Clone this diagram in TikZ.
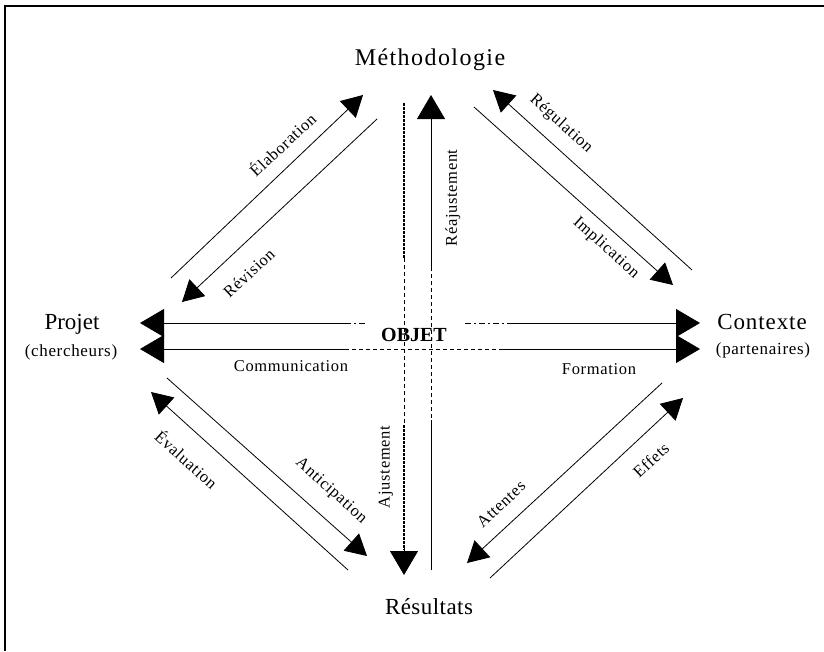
\documentclass[tikz,border=0pt]{standalone}
\usepackage{fontspec}
\setmainfont{Liberation Serif}
\usetikzlibrary{arrows.meta}
\tikzset{
  mainlbl/.style={font=\fontsize{23}{26}\selectfont, inner sep=0pt},
  sublbl/.style={font=\fontsize{17}{19}\selectfont\addfontfeature{LetterSpace=4}, inner sep=0pt},
  smalllbl/.style={font=\fontsize{16.5}{18}\selectfont\addfontfeature{LetterSpace=4}, inner sep=0pt},
  thinline/.style={line width=0.8pt},
  bigtip/.style={-{Triangle[length=24pt,width=28pt]}},
  diagtip/.style={-{Triangle[length=21pt,width=23pt]}},
  heavydot/.style={line width=1.8pt, dash pattern=on 3pt off 1pt},
  lightdash/.style={line width=0.8pt, dash pattern=on 4pt off 3pt},
  dashdotline/.style={line width=0.8pt, dash pattern=on 6pt off 3pt on 2pt off 3pt},
}
\begin{document}
\begin{tikzpicture}[x=1pt,y=-1pt]
\useasboundingbox (0,0) rectangle (824,651);
\fill[white] (0,0) rectangle (824,651);
% frame
\draw[line width=1.5pt] (5,651) -- (5,6) -- (824,6);

% main labels
\node[mainlbl, font=\fontsize{24}{26}\selectfont\addfontfeature{LetterSpace=6}] (meth) at (430,60) {Méthodologie};
\node[mainlbl] (projet) at (72,324) {Projet};
\node[sublbl] (cherch) at (71,352) {(chercheurs)};
\node[mainlbl, font=\fontsize{23}{26}\selectfont\addfontfeature{LetterSpace=4}] (contexte) at (762,322) {Contexte};
\node[sublbl] (parten) at (763,350) {(partenaires)};
\node[mainlbl, font=\fontsize{23}{26}\selectfont\addfontfeature{LetterSpace=2}] (result) at (429,607) {Résultats};
\node[font=\fontsize{20}{22}\selectfont\bfseries, inner sep=0pt] (objet) at (414,335) {OBJET};

% coordinates for horizontal lines
\coordinate (hlA) at (140,323);
\coordinate (hlB) at (345,323);
\coordinate (hlC) at (366,323);
\coordinate (hrA) at (465,323);
\coordinate (hrB) at (512,323);
\coordinate (hrC) at (700,323);
\coordinate (blA) at (140,349);
\coordinate (blB) at (345,349);
\coordinate (blC) at (502,349);
\coordinate (blD) at (700,349);

\draw[thinline, bigtip] (hlB) -- (hlA);
\draw[dashdotline] (hlB) -- (hlC);
\draw[dashdotline] (hrA) -- (hrB);
\draw[thinline, bigtip] (hrB) -- (hrC);
\draw[thinline, bigtip] (blB) -- (blA);
\draw[lightdash] (blB) -- (blC);
\draw[thinline, bigtip] (blC) -- (blD);

% vertical lines
\coordinate (vlA) at (404,103);
\coordinate (vlB) at (404,258);
\coordinate (vlC) at (404,425);
\coordinate (vlE) at (404,550);
\coordinate (vlF) at (404,548);
\coordinate (vlD) at (404,575);
\coordinate (vrA) at (431,95);
\coordinate (vrB) at (431,267);
\coordinate (vrC) at (431,420);
\coordinate (vrD) at (431,570);

\draw[heavydot] (vlA) -- (vlB);
\draw[lightdash] (vlB) -- (vlC);
\draw[heavydot] (vlC) -- (vlE);
\draw[thinline, bigtip] (vlF) -- (vlD);
\draw[thinline, bigtip] (vrB) -- (vrA);
\draw[lightdash] (vrB) -- (vrC);
\draw[thinline] (vrC) -- (vrD);

% diagonals top-left
\coordinate (tlu1) at (171,278);
\coordinate (tlu2) at (363,95);
\coordinate (tll1) at (377,119);
\coordinate (tll2) at (182,302);
\draw[thinline, diagtip] (tlu1) -- (tlu2);
\draw[thinline, diagtip] (tll1) -- (tll2);
% top-right
\coordinate (tru1) at (692,270);
\coordinate (tru2) at (493,90);
\coordinate (trl1) at (474,107);
\coordinate (trl2) at (673,285);
\draw[thinline, diagtip] (tru1) -- (tru2);
\draw[thinline, diagtip] (trl1) -- (trl2);
% bottom-left
\coordinate (blu1) at (167,378);
\coordinate (blu2) at (367,556);
\coordinate (bll1) at (348,570);
\coordinate (bll2) at (151,392);
\draw[thinline, diagtip] (blu1) -- (blu2);
\draw[thinline, diagtip] (bll1) -- (bll2);
% bottom-right
\coordinate (bru1) at (662,383);
\coordinate (bru2) at (467,563);
\coordinate (brl1) at (490,578);
\coordinate (brl2) at (683,398);
\draw[thinline, diagtip] (bru1) -- (bru2);
\draw[thinline, diagtip] (brl1) -- (brl2);

% connector labels
\node[smalllbl] (comm) at (291,366) {Communication};
\node[smalllbl] (form) at (599,369) {Formation};
\node[smalllbl, rotate=90] (reaj) at (453,198) {Réajustement};
\node[smalllbl, rotate=90] (aj) at (386,467) {Ajustement};
\node[smalllbl, rotate=43] (elab) at (282,144) {Élaboration};
\node[smalllbl, rotate=43] (revis) at (249,273) {Révision};
\node[smalllbl, rotate=-42] (regul) at (561,124) {Régulation};
\node[smalllbl, rotate=-42] (impl) at (606,248) {Implication};
\node[smalllbl, rotate=-42] (eval) at (187,459) {Évaluation};
\node[smalllbl, rotate=-42] (antic) at (331,491) {Anticipation};
\node[smalllbl, rotate=43] (attent) at (501,504) {Attentes};
\node[smalllbl, rotate=43] (effets) at (651,460) {Effets};
\end{tikzpicture}
\end{document}
